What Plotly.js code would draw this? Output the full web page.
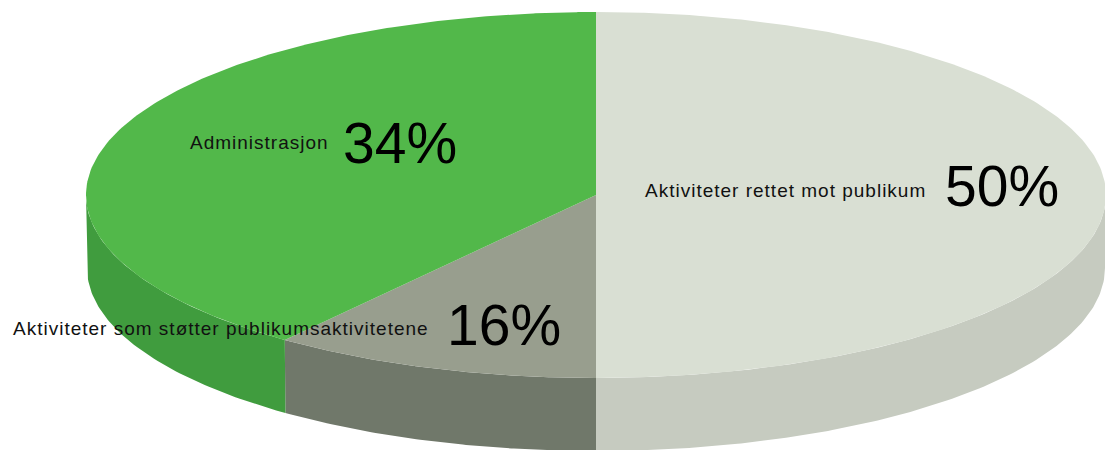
<!DOCTYPE html>
<html><head><meta charset="utf-8">
<script src="https://cdn.plot.ly/plotly-3.0.1.min.js"></script>
<style>html,body{margin:0;padding:0;background:#fff}#c{width:1105px;height:450px}
text.annotation-text[data-unformatted^="A"]{letter-spacing:1px !important}</style>
</head><body><div id="c"></div>
<script>
const categories = ["Aktiviteter rettet mot publikum", "Aktiviteter som støtter publikumsaktivitetene", "Administrasjon"];
const shares = [50, 16, 34];
const shareLabels = ["50%", "16%", "34%"];
const topColors = ["#d9dfd3", "#989e8e", "#52b84a"];
const sideColors = ["#c6cbc0", "#70786a", "#409c3e"];

const cx = 596, cy = 195, rx = 510, ry = 183, depth = 73, rxBottom = 509;
const tilt = 22.1; // angular foreshortening of the tilted 3D disc
const W = 1105, H = 450;
const yFlip = v => H - v;
function warp(deg) { return deg - tilt * Math.sin(2 * deg * Math.PI / 180); }
function pt(angleDeg, dy, r) {
  const a = warp(angleDeg) * Math.PI / 180;
  return [cx + r * Math.sin(a), yFlip(cy + dy - ry * Math.cos(a))];
}
function arc(a0, a1, dy, r) {
  const out = [];
  const n = Math.max(2, Math.ceil(Math.abs(a1 - a0)) * 2);
  for (let i = 0; i <= n; i++) out.push(pt(a0 + (a1 - a0) * i / n, dy, r));
  return out;
}
function poly(points, color) {
  return {type: "scatter", mode: "lines", x: points.map(p => p[0]), y: points.map(p => p[1]),
    fill: "toself", fillcolor: color, line: {color: color, width: 0}, hoverinfo: "skip", showlegend: false};
}
const traces = [];
let start = 0;
const slices = shares.map(s => { const r = [start, start + s * 3.6]; start = r[1]; return r; });
slices.forEach((s, i) => {
  const a0 = Math.max(s[0], 90), a1 = Math.min(s[1], 270);
  if (a1 > a0) traces.push(poly(arc(a0, a1, 0, rx).concat(arc(a1, a0, depth, rxBottom)), sideColors[i]));
});
slices.forEach((s, i) => {
  traces.push(poly([[cx, yFlip(cy)]].concat(arc(s[0], s[1], 0, rx)), topColors[i]));
});
const labelPos = [[928, 190, 1061, 186], [431, 328, 563, 325], [331, 142, 459, 143]];
const annotations = [];
categories.forEach((c, i) => {
  const p = labelPos[i];
  annotations.push({xref: "x", yref: "y", x: p[0], y: yFlip(p[1]), text: c, showarrow: false, xanchor: "right", yanchor: "middle",
    font: {family: "Liberation Sans, Arial, sans-serif", size: 19, color: "#111"}});
  annotations.push({xref: "x", yref: "y", x: p[2], y: yFlip(p[3]), text: shareLabels[i], showarrow: false, xanchor: "right", yanchor: "middle",
    font: {family: "Liberation Sans, Arial, sans-serif", size: 57, color: "#000"}});
});
Plotly.newPlot("c", traces, {
  width: W, height: H, margin: {l: 0, r: 0, t: 0, b: 0},
  paper_bgcolor: "#fff", plot_bgcolor: "#fff",
  xaxis: {range: [0, W], visible: false, fixedrange: true},
  yaxis: {range: [0, H], visible: false, fixedrange: true},
  annotations: annotations
}, {displayModeBar: false, staticPlot: true});
</script></body></html>
